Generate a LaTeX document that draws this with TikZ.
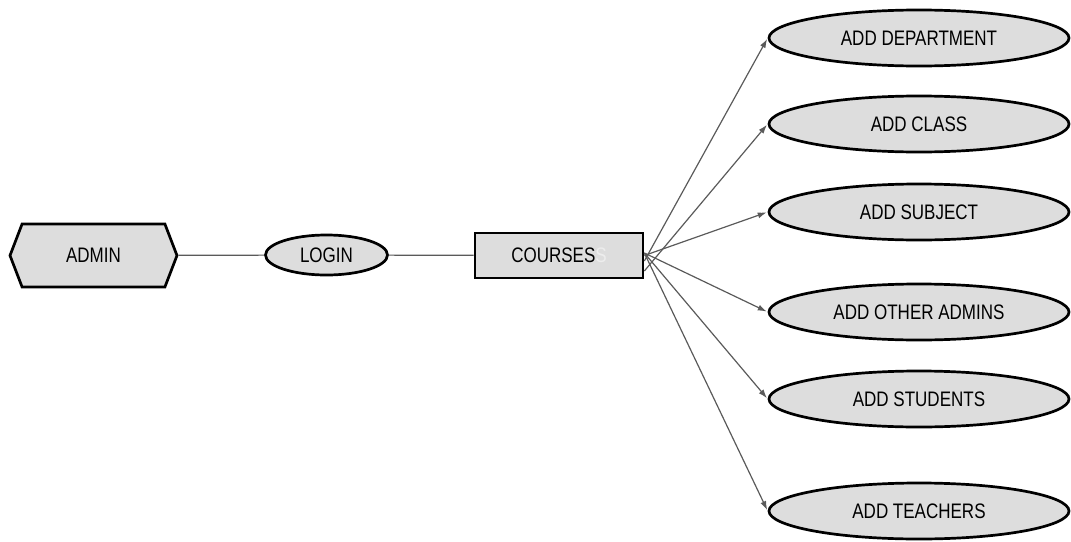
\documentclass[tikz,border=0pt]{standalone}
\usepackage{fontspec}
\usetikzlibrary{shapes.geometric,shapes.symbols,arrows.meta}
\newfontfamily\narrowsf[FakeStretch=0.81]{Liberation Sans}
\definecolor{boxfill}{RGB}{221,221,221}
\definecolor{wire}{RGB}{90,90,90}
\tikzset{
  actor/.style={signal, signal to=west and east, signal pointer angle=138,
    draw=black, line width=2.7pt, fill=boxfill, minimum width=167pt,
    minimum height=63pt, inner sep=0pt},
  usecase/.style={ellipse, draw=black, line width=2.7pt, fill=boxfill,
    minimum width=300pt, minimum height=56pt, inner sep=0pt},
  menu/.style={rectangle, draw=black, line width=2.7pt, fill=boxfill,
    minimum width=168pt, minimum height=45pt, inner sep=0pt},
  link/.style={draw=wire, line width=1.2pt},
  goes/.style={link, -{Latex[length=9pt,width=6pt]}, shorten >=1pt}
}
\begin{document}
\begin{tikzpicture}[x=1pt,y=1pt,yscale=-1,font=\narrowsf\fontsize{21}{24}\selectfont]
\useasboundingbox (0,0) rectangle (1071,541);
%Shape: Hexagon
\node[actor] (admin) at (93.5,255.5) {ADMIN};
%Shape: Ellipse
\node[usecase, minimum width=122pt, minimum height=40pt] (login) at (326.5,255) {LOGIN};
%Shape: Rectangle
\node[menu] (courses) at (559,255.5) {COURSES\textcolor{white!93!black}{S}};
%Shape: Ellipse
\node[usecase] (dept) at (919,38) {ADD DEPARTMENT};
\node[usecase] (class) at (919,124) {ADD CLASS};
\node[usecase] (subject) at (919,212) {ADD SUBJECT};
\node[usecase] (others) at (919,312) {ADD OTHER ADMINS};
\node[usecase] (students) at (919,399) {ADD STUDENTS};
\node[usecase] (teachers) at (919,511) {ADD TEACHERS};
%Straight Lines
\draw[link] (admin) -- (login);
\draw[link] (login) -- (courses);
%Arrows
\draw[goes] ([yshift=5.5pt]courses.east) -- (dept.west);
\draw[goes] ([yshift=15.5pt]courses.east) -- (class.west);
\draw[goes] (courses.east) -- (subject.west);
\foreach \n in {others,students,teachers}
  \draw[goes] ([yshift=-2.5pt]courses.east) -- (\n.west);
\end{tikzpicture}
\end{document}
